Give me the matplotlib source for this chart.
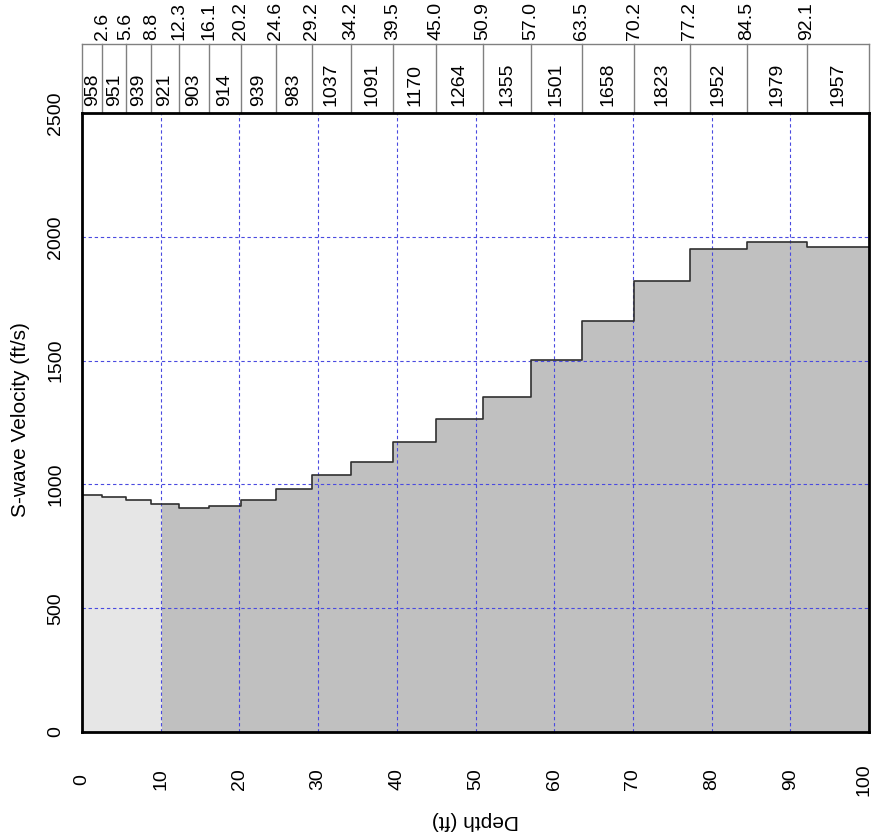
import matplotlib.pyplot as plt
import matplotlib.transforms as mtransforms
from matplotlib.patches import Rectangle
import numpy as np

plt.rcParams['font.family'] = ['Liberation Sans', 'DejaVu Sans']

# Layer boundaries (ft) and shear wave velocity of each layer (ft/s)
depth_bounds = [0, 2.6, 5.6, 8.8, 12.3, 16.1, 20.2, 24.6, 29.2, 34.2, 39.5,
                45.0, 50.9, 57.0, 63.5, 70.2, 77.2, 84.5, 92.1, 100]
vs_layers = [958, 951, 939, 921, 903, 914, 939, 983, 1037, 1091, 1170,
             1264, 1355, 1501, 1658, 1823, 1952, 1979, 1957]
shallow_limit = 10  # upper zone drawn in lighter gray

x_ticks = list(range(0, 101, 10))
y_ticks = [0, 500, 1000, 1500, 2000, 2500]

W, H = 875, 838
fig = plt.figure(figsize=(W / 100, H / 100), dpi=100)
ax = fig.add_axes([82 / W, 1 - 732 / H, (869 - 82) / W, (732 - 113) / H])

bounds = np.array(depth_bounds)
vs = np.array(vs_layers)
vs_ext = np.append(vs, vs[-1])

dark = ax.fill_between(bounds, vs_ext, step='post', color='#c0c0c0', lw=0, zorder=1)
light = ax.fill_between(bounds, vs_ext, step='post', color='#e6e6e6', lw=0, zorder=1.1)
light.set_clip_path(Rectangle((0, 0), shallow_limit, 2500, transform=ax.transData))
ax.step(bounds, vs_ext, where='post', color='#303030', lw=1.2, zorder=3)

ax.set_xlim(0, 100)
ax.set_ylim(0, 2500)
ax.set_xticks(x_ticks)
ax.set_yticks(y_ticks)
ax.grid(True, color='#4a4ae0', ls=(0, (3, 2.5)), lw=0.8, zorder=2)
ax.set_axisbelow(False)
for sp in ax.spines.values():
    sp.set_linewidth(2.0)
    sp.set_zorder(4)

fs = 14
ax.tick_params(axis='both', length=0, labelsize=fs)
ax.tick_params(axis='x', pad=34)
ax.tick_params(axis='y', pad=19)
for lab in ax.get_xticklabels():
    lab.set_rotation(90)
    lab.set_va('center')
    lab.set_ha('center')
for lab in ax.get_yticklabels():
    lab.set_rotation(90)
    lab.set_va('center')
    lab.set_ha('center')
# keep the last depth label inside the figure edge
last = ax.get_xticklabels()[-1]
last.set_transform(last.get_transform() +
                   mtransforms.ScaledTranslation(-5 / 100, 0, fig.dpi_scale_trans))

fig.text(21 / W, 1 - 420 / H, 'S-wave Velocity (ft/s)', rotation=90,
         ha='center', va='center', fontsize=15)
fig.text(475 / W, 1 - 820 / H, 'Depth (ft)', rotation=180,
         ha='center', va='center', fontsize=15)

# Layer table above the plot
tr = mtransforms.blended_transform_factory(ax.transData, fig.transFigure)
box_top = 1 - 44 / H
box_bot = 1 - 113 / H
ax.plot([0, 100], [box_top, box_top], transform=tr, color='#808080', lw=1,
        clip_on=False)
for b in depth_bounds:
    ax.plot([b, b], [box_bot, box_top], transform=tr, color='#808080', lw=1,
            clip_on=False)
for b in depth_bounds[1:-1]:
    fig.text(b, 1 - 40 / H, f'{b:.1f}', transform=tr, rotation=90,
             ha='center', va='bottom', fontsize=fs)
for lo, hi, v in zip(depth_bounds[:-1], depth_bounds[1:], vs_layers):
    fig.text((lo + hi) / 2, 1 - 106 / H, str(v), transform=tr, rotation=90,
             ha='center', va='bottom', fontsize=fs)

fig.savefig('out.png', dpi=100)
